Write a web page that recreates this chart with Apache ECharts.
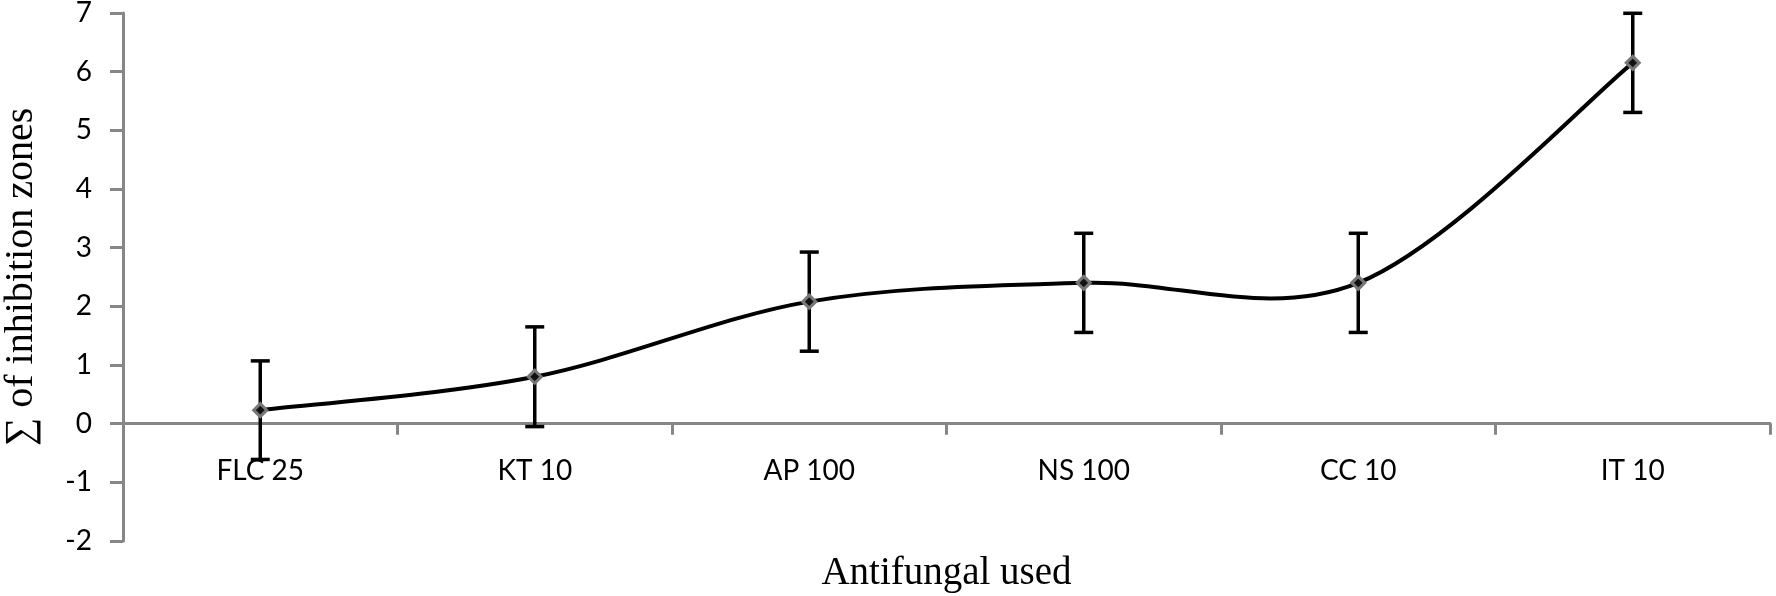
<!DOCTYPE html>
<html>
<head>
<meta charset="utf-8">
<style>html,body{margin:0;padding:0;background:#fff}#chart{width:1776px;height:596px}</style>
<script src="https://cdn.jsdelivr.net/npm/echarts@6/dist/echarts.min.js"></script>
</head>
<body>
<div id="chart"></div>
<script>
// Data
var categories = ['FLC 25', 'KT 10', 'AP 100', 'NS 100', 'CC 10', 'IT 10'];
var values = [0.23, 0.80, 2.08, 2.40, 2.40, 6.15];
var errors = [0.84, 0.85, 0.845, 0.845, 0.845, 0.845];
var yMin = -2, yMax = 7, yStep = 1;
var xTitle = 'Antifungal used';
var yTitle = '\u2211 of inhibition zones';

var axisGray = '#878787';
var TENSION = 1 / 6;   // Catmull-Rom style smoothing (as the spreadsheet's smoothed line)
var chart = echarts.init(document.getElementById('chart'), null, {renderer: 'canvas'});

var errData = categories.map(function (c, i) { return [i, values[i] - errors[i], values[i] + errors[i]]; });
// one item per curve segment: [index, value]
var segData = values.slice(0, values.length - 1).map(function (v, i) { return [i, v]; });

function tangent(P, i) {
  var n = P.length;
  var prev = P[Math.max(i - 1, 0)], next = P[Math.min(i + 1, n - 1)];
  return [(next[0] - prev[0]) * TENSION, (next[1] - prev[1]) * TENSION];
}

chart.setOption({
  animation: false,
  backgroundColor: '#fff',
  grid: {left: 123, right: 6, top: 13, bottom: 55, containLabel: false, outerBoundsMode: 'none'},
  xAxis: {
    type: 'category',
    data: categories,
    boundaryGap: true,
    axisLine: {onZero: true, lineStyle: {color: axisGray, width: 3}},
    axisTick: {show: true, alignWithLabel: false, length: 11, lineStyle: {color: axisGray, width: 3}},
    axisLabel: {color: '#000', fontFamily: 'Lato', fontSize: 28, margin: -84},
    splitLine: {show: false},
    name: xTitle,
    nameLocation: 'middle',
    nameGap: 13,
    nameMoveOverlap: false,
    nameTextStyle: {color: '#000', fontFamily: 'Liberation Serif', fontSize: 39}
  },
  yAxis: {
    type: 'value',
    min: yMin, max: yMax, interval: yStep,
    axisLine: {show: true, lineStyle: {color: axisGray, width: 3}},
    axisTick: {show: true, length: 13, lineStyle: {color: axisGray, width: 3}},
    axisLabel: {color: '#000', fontFamily: 'Lato', fontSize: 28, margin: 31},
    splitLine: {show: false},
    name: yTitle,
    nameLocation: 'middle',
    nameRotate: 90,
    nameGap: 82,
    nameTextStyle: {color: '#000', fontFamily: 'Liberation Serif', fontSize: 40}
  },
  series: [
    {
      type: 'custom',
      z: 2,
      data: errData,
      renderItem: function (params, api) {
        var x = api.value(0);
        var lo = api.coord([x, api.value(1)]);
        var hi = api.coord([x, api.value(2)]);
        var hw = 9.5;
        var st = {stroke: '#000', lineWidth: 3.5};
        return {
          type: 'group',
          children: [
            {type: 'line', shape: {x1: lo[0], y1: lo[1], x2: hi[0], y2: hi[1]}, style: st},
            {type: 'line', shape: {x1: hi[0] - hw, y1: hi[1], x2: hi[0] + hw, y2: hi[1]}, style: st},
            {type: 'line', shape: {x1: lo[0] - hw, y1: lo[1], x2: lo[0] + hw, y2: lo[1]}, style: st}
          ]
        };
      }
    },
    {
      type: 'custom',
      z: 3,
      data: segData,
      renderItem: function (params, api) {
        var i = api.value(0);
        var P = values.map(function (v, k) { return api.coord([k, v]); });
        var t0 = tangent(P, i), t1 = tangent(P, i + 1);
        return {
          type: 'bezierCurve',
          shape: {
            x1: P[i][0], y1: P[i][1],
            cpx1: P[i][0] + t0[0], cpy1: P[i][1] + t0[1],
            cpx2: P[i + 1][0] - t1[0], cpy2: P[i + 1][1] - t1[1],
            x2: P[i + 1][0], y2: P[i + 1][1]
          },
          style: {stroke: '#000', lineWidth: 4, fill: null, lineCap: 'round'}
        };
      }
    },
    {
      type: 'scatter',
      z: 4,
      data: values,
      symbol: 'diamond',
      symbolSize: 13,
      itemStyle: {color: '#111', borderColor: '#777', borderWidth: 3, opacity: 1}
    }
  ]
});
</script>
</body>
</html>
